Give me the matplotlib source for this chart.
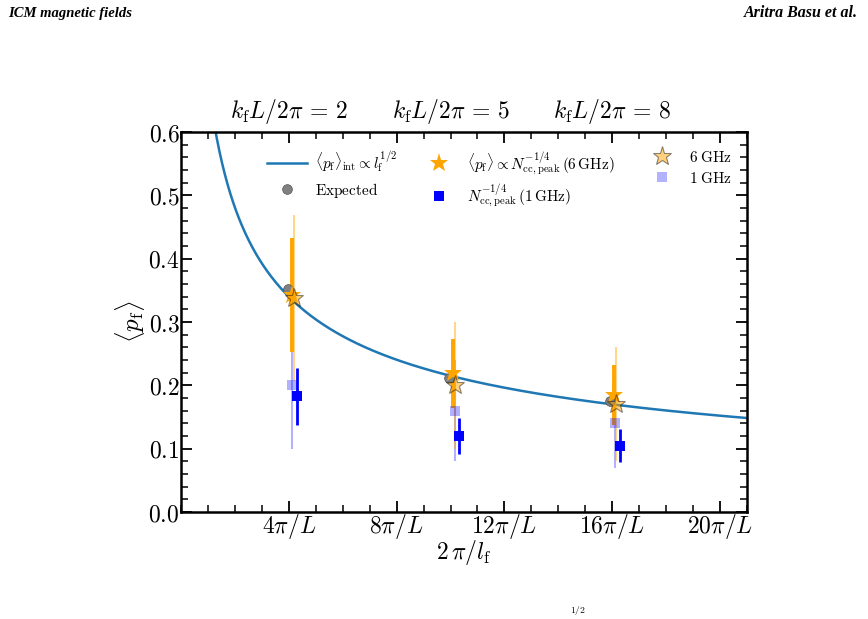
import numpy as np
import matplotlib
matplotlib.use("Agg")
import matplotlib.pyplot as plt
from matplotlib.lines import Line2D
from matplotlib.ticker import MultipleLocator, FixedLocator

plt.rcParams['mathtext.fontset'] = 'cm'
plt.rcParams['font.family'] = ['DejaVu Serif']

# ---------------- data ----------------
kf_L_over_2pi = [2, 5, 8]
top_tick_pos = [4, 10, 16]          # 2*pi/l_f in units of pi/L

x_expected = [3.97, 9.94, 15.92]
p_expected = [0.352, 0.211, 0.176]

x_6ghz = [4.10, 10.09, 16.07]
p_6ghz = [0.343, 0.219, 0.185]
err_6ghz = [0.090, 0.054, 0.047]

x_1ghz = [4.31, 10.31, 16.29]
p_1ghz = [0.183, 0.120, 0.105]
err_1ghz = [0.045, 0.029, 0.026]

x_6ghz_b = [4.18, 10.15, 16.14]
p_6ghz_b = [0.338, 0.200, 0.170]
err_6ghz_b = [0.131, 0.100, 0.090]

x_1ghz_b = [4.13, 10.15, 16.10]
p_1ghz_b = [0.200, 0.160, 0.140]
err_1ghz_b = [0.100, 0.080, 0.070]

norm_int = 0.68   # <p_f>_int = norm_int * x^(-1/2)

xtick_pos = [4, 8, 12, 16, 20]
xtick_lab = [r'$4\pi/L$', r'$8\pi/L$', r'$12\pi/L$', r'$16\pi/L$', r'$20\pi/L$']
ytick_pos = [0.0, 0.1, 0.2, 0.3, 0.4, 0.5, 0.6]

# ---------------- figure ----------------
fig = plt.figure(figsize=(8.68, 6.19), dpi=100)
ax = fig.add_axes([181/868, 1-512/619, (747-181)/868, (512-132)/619])

xc = np.linspace(0.5, 21, 600)
ax.plot(xc, norm_int / np.sqrt(xc), color='#1f77b4', lw=1.8, zorder=2)

orange = '#FFA500'
blue = '#0000FF'

# light (alpha) error bars
ax.errorbar(x_1ghz_b, p_1ghz_b, yerr=err_1ghz_b, fmt='none', ecolor=(0, 0, 1, 0.3),
            elinewidth=1.5, capsize=0, zorder=3)
ax.errorbar(x_6ghz_b, p_6ghz_b, yerr=err_6ghz_b, fmt='none', ecolor=(1, 0.647, 0, 0.45),
            elinewidth=1.5, capsize=0, zorder=3)
# solid error bars
ax.errorbar(x_6ghz, p_6ghz, yerr=err_6ghz, fmt='none', ecolor=orange,
            elinewidth=2.8, capsize=0, zorder=4)
ax.errorbar(x_1ghz, p_1ghz, yerr=err_1ghz, fmt='none', ecolor=blue,
            elinewidth=2.0, capsize=0, zorder=4)

# markers
ax.plot(x_expected, p_expected, 'o', color='gray', ms=7, mec='#555555', mew=0.5, zorder=5)
ax.plot(x_6ghz, p_6ghz, '*', color=orange, ms=14, mew=0, zorder=6)
ax.plot(x_1ghz, p_1ghz, 's', color=blue, ms=7.5, mew=0, zorder=6)
ax.plot(x_6ghz_b, p_6ghz_b, '*', color=(1, 0.647, 0, 0.5), ms=14,
        mec=(0, 0, 0, 0.45), mew=0.8, zorder=7)
ax.plot(x_1ghz_b, p_1ghz_b, 's', color=(0, 0, 1, 0.3), ms=7.5, mew=0, zorder=7)

ax.set_xlim(0, 21)
ax.set_ylim(0, 0.6)
ax.xaxis.set_major_locator(FixedLocator(xtick_pos))
ax.set_xticklabels(xtick_lab)
ax.xaxis.set_minor_locator(MultipleLocator(1))
ax.yaxis.set_major_locator(FixedLocator(ytick_pos))
ax.set_yticklabels([f'${v:.1f}$' for v in ytick_pos])
ax.yaxis.set_minor_locator(MultipleLocator(0.02))

ax.tick_params(which='both', direction='in', top=True, right=True, labelsize=17)
ax.tick_params(which='major', length=8, width=1.3)
ax.tick_params(which='minor', length=5, width=1.1)
ax.tick_params(axis='x', which='major', pad=0)
ax.tick_params(axis='y', which='major', pad=1)
for s in ax.spines.values():
    s.set_linewidth(1.8)

sec = ax.secondary_xaxis('top')
sec.set_xticks(top_tick_pos)
sec.set_xticklabels([rf'$k_{{\rm f}}L/2\pi\,=\,{v}$' for v in kf_L_over_2pi])
sec.tick_params(length=0, labelsize=17, pad=4)
sec.spines['top'].set_visible(False)

ax.set_xlabel(r'$2\,\pi/l_{\rm f}$', fontsize=17, labelpad=-2)
ax.set_ylabel(r'$\langle p_{\rm f}\rangle$', fontsize=18, labelpad=1)

# legends
h_curve = Line2D([], [], color='#1f77b4', lw=1.8)
h_exp = Line2D([], [], ls='none', marker='o', color='gray', ms=7, mec='#555555', mew=0.5)
h_6 = Line2D([], [], ls='none', marker='*', color=orange, ms=14, mew=0)
h_1 = Line2D([], [], ls='none', marker='s', color=blue, ms=7.5, mew=0)
h_6b = Line2D([], [], ls='none', marker='*', color=(1, 0.647, 0, 0.5), ms=14,
              mec=(0, 0, 0, 0.45), mew=0.8)
h_1b = Line2D([], [], ls='none', marker='s', color=(0, 0, 1, 0.3), ms=7.5, mew=0)

leg1 = ax.legend([h_curve, h_exp, h_6, h_1],
                 [r'$\langle p_{\rm f}\rangle_{\rm int}\propto l_{\rm f}^{1/2}$',
                  r'$\mathrm{Expected}$',
                  r'$\langle p_{\rm f}\rangle\propto N_{\rm cc,peak}^{-1/4}\,(6\,\mathrm{GHz})$',
                  r'$N_{\rm cc,peak}^{-1/4}\,(1\,\mathrm{GHz})$'],
                 ncol=2, loc='upper left', bbox_to_anchor=(0.128, 0.99),
                 frameon=False, fontsize=11, handlelength=2.6, handletextpad=0.55,
                 columnspacing=1.4, labelspacing=0.4)
ax.add_artist(leg1)
ax.legend([h_6b, h_1b], [r'$6\;\mathrm{GHz}$', r'$1\;\mathrm{GHz}$'],
          loc='upper left', bbox_to_anchor=(0.79, 0.99), frameon=False,
          fontsize=11, handlelength=2.6, handletextpad=0.5, labelspacing=0.4)

# page header / footer fragments
fig.text(8/868, 1-13/619, 'ICM magnetic fields', fontsize=10.5, style='italic',
         weight='bold', family='Liberation Serif', va='center', ha='left')
fig.text(858/868, 1-13/619, 'Aritra Basu et al.', fontsize=11.5, style='italic',
         weight='bold', family='Liberation Serif', va='center', ha='right')
fig.text(578/868, 2/619, r'$1/2$', fontsize=7, va='bottom', ha='center')

fig.savefig('out.png', dpi=100)
